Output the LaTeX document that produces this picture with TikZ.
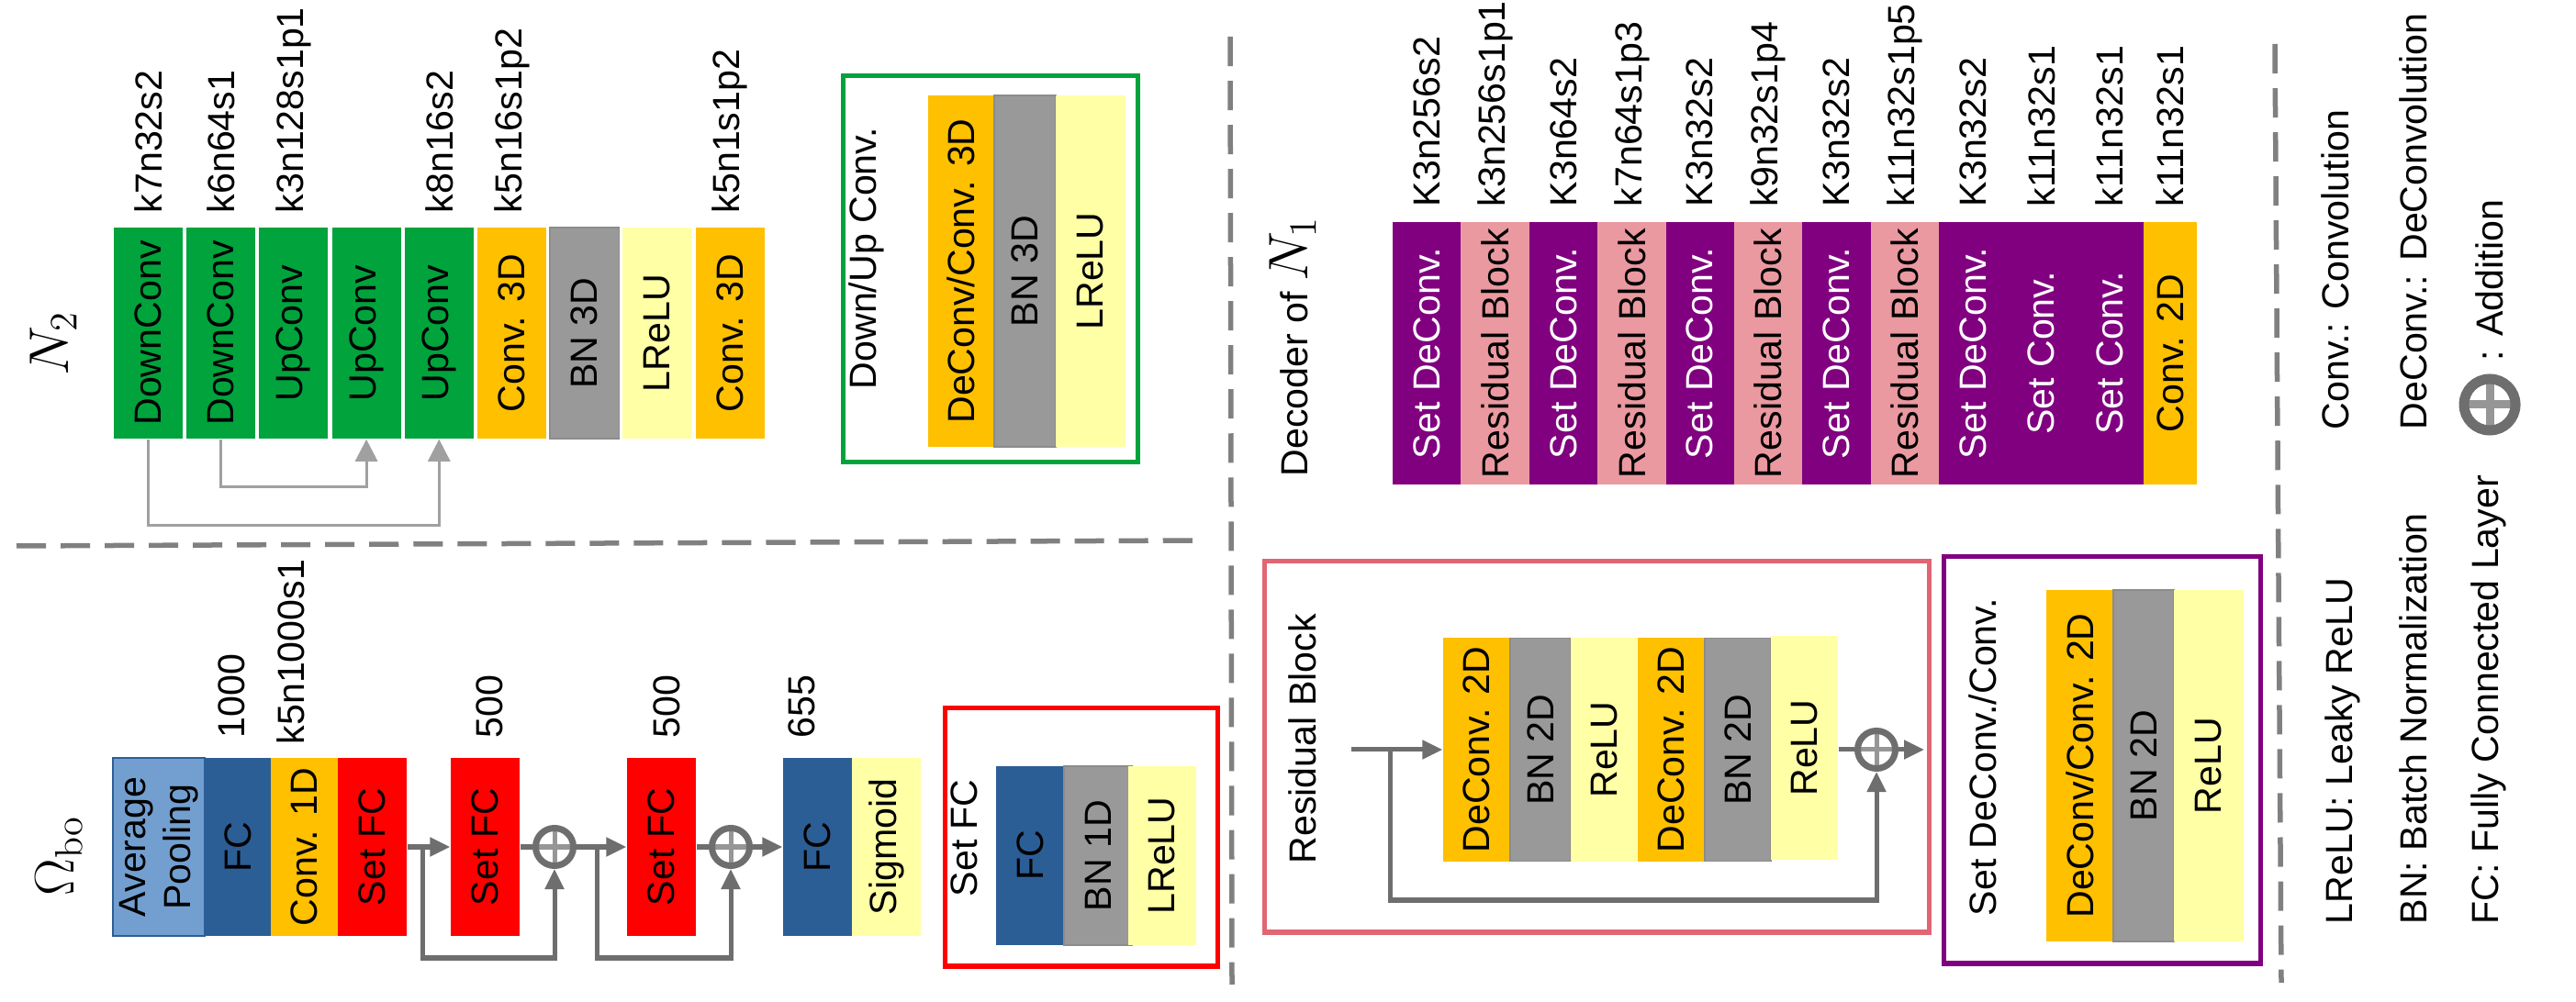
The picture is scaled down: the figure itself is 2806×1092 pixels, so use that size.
\documentclass[tikz,border=0pt]{standalone}
\usepackage{amsmath}
\usepackage[no-math]{fontspec}
\setmainfont{Liberation Sans}
\usepackage{tikz}
\usetikzlibrary{positioning, arrows.meta, calc}
\usepackage{xcolor}

\definecolor{netgreen}{RGB}{0,163,60}
\definecolor{convorange}{RGB}{255,192,0}
\definecolor{bngray}{RGB}{153,153,153}
\definecolor{reluyellow}{RGB}{255,255,166}
\definecolor{setpurple}{RGB}{128,0,128}
\definecolor{respink}{RGB}{234,153,160}
\definecolor{poolblue}{RGB}{114,159,207}
\definecolor{fcblue}{RGB}{44,94,150}
\definecolor{setred}{RGB}{255,0,0}
\definecolor{resframe}{RGB}{224,102,115}
\definecolor{skipgray}{RGB}{160,160,160}
\definecolor{linegray}{RGB}{110,110,110}
\definecolor{crossgray}{RGB}{150,150,150}
\definecolor{sepgray}{RGB}{128,128,128}

\newcommand{\vt}[1]{\rotatebox{90}{#1}}

\begin{document}
\begin{tikzpicture}[x=0.01cm, y=-0.01cm,
  every node/.style={font=\fontsize{11.7}{14}\selectfont},
  layer/.style={inner sep=0pt, minimum width=0.75cm},
  kname/.style={inner sep=0pt, anchor=south},
  big/.style={inner sep=0pt, font=\fontsize{18.5}{22}\selectfont},
  frame/.style={line width=0.05cm},
  sep/.style={sepgray, line width=0.055cm, dash pattern=on 0.32cm off 0.16cm},
  skipN/.style={skipgray, line width=0.03cm, -{Triangle[width=0.24cm, length=0.24cm]}},
  flow/.style={linegray, line width=0.05cm},
  arr/.style={-{Triangle[width=0.2cm, length=0.22cm]}},
  add/.style={circle, draw=linegray, line width=0.07cm, minimum size=0.41cm, inner sep=0pt,
    path picture={\draw[crossgray, line width=0.05cm] (path picture bounding box.north) -- (path picture bounding box.south)
      (path picture bounding box.west) -- (path picture bounding box.east);}},
  addbig/.style={circle, draw=linegray, line width=0.11cm, minimum size=0.56cm, inner sep=0pt,
    path picture={\draw[crossgray, line width=0.09cm] (path picture bounding box.north) -- (path picture bounding box.south)
      (path picture bounding box.west) -- (path picture bounding box.east);}}
]
\useasboundingbox (0,0) rectangle (2806,1092);

% N2
\node[big] (n2) at (58,374) {\vt{$N_2$}};
\node[layer, fill=netgreen, minimum height=2.3cm] (dc1) at (161.5,363) {\vt{DownConv}};
\node[layer, fill=netgreen, minimum height=2.3cm] (dc2) at (240.7,363) {\vt{DownConv}};
\node[layer, fill=netgreen, minimum height=2.3cm] (uc1) at (319.9,363) {\vt{UpConv}};
\node[layer, fill=netgreen, minimum height=2.3cm] (uc2) at (399.1,363) {\vt{UpConv}};
\node[layer, fill=netgreen, minimum height=2.3cm] (uc3) at (478.3,363) {\vt{UpConv}};
\node[layer, fill=convorange, minimum height=2.3cm] (cv1) at (557.5,363) {\vt{Conv. 3D}};
\node[layer, fill=bngray, draw=black!45, minimum height=2.3cm] (bn1) at (636.7,363) {\vt{BN 3D}};
\node[layer, fill=reluyellow, minimum height=2.3cm] (lr1) at (715.9,363) {\vt{LReLU}};
\node[layer, fill=convorange, minimum height=2.3cm] (cv2) at (795.1,363) {\vt{Conv. 3D}};

\node[kname] (kdc1) at (161.5,233) {\vt{k7n32s2}};
\node[kname] (kdc2) at (240.7,233) {\vt{k6n64s1}};
\node[kname] (kuc1) at (319.9,233) {\vt{k3n128s1p1}};
\node[kname] (kuc3) at (478.3,233) {\vt{k8n16s2}};
\node[kname] (kcv1) at (557.5,233) {\vt{k5n16s1p2}};
\node[kname] (kcv2) at (795.1,233) {\vt{k5n1s1p2}};

\draw[skipN] (dc1.south) -- ++(0,94) -| (uc3.south);
\draw[skipN] (dc2.south) -- ++(0,52) -| (uc2.south);

% Down/Up Conv.
\draw[frame, netgreen] (918,83) rectangle (1239,504);
\node[kname] (dutitle) at (944,425) {\vt{Down/Up Conv.}};
\node[layer, fill=convorange, minimum width=0.72cm, minimum height=3.83cm] (udc) at (1047,295.5) {\vt{DeConv/Conv. 3D}};
\node[layer, fill=bngray, draw=black!45, minimum width=0.67cm, minimum height=3.83cm] (ubn) at (1116.5,295.5) {\vt{BN 3D}};
\node[layer, fill=reluyellow, minimum width=0.76cm, minimum height=3.83cm] (ulr) at (1188,295.5) {\vt{LReLU}};

% Omega_bo
\node[big] (omega) at (64,933) {\vt{$\Omega_{\mathrm{bo}}$}};
\node[layer, fill=poolblue, draw=fcblue, minimum width=1cm, minimum height=1.94cm] (pool) at (173,923) {\vt{\begin{tabular}{@{}c@{}}Average\\Pooling\end{tabular}}};
\node[layer, fill=fcblue, minimum width=0.72cm, minimum height=1.94cm] (fc1) at (259,923) {\vt{FC}};
\node[layer, fill=convorange, minimum width=0.73cm, minimum height=1.94cm] (c1d) at (331.5,923) {\vt{Conv. 1D}};
\node[layer, fill=setred, minimum height=1.94cm] (sfc1) at (405.5,923) {\vt{Set FC}};
\node[layer, fill=setred, minimum height=1.94cm] (sfc2) at (528.5,923) {\vt{Set FC}};
\node[add] (add1) at (604,923) {};
\node[layer, fill=setred, minimum height=1.94cm] (sfc3) at (720.5,923) {\vt{Set FC}};
\node[add] (add2) at (796,923) {};
\node[layer, fill=fcblue, minimum height=1.94cm] (fc2) at (890.5,923) {\vt{FC}};
\node[layer, fill=reluyellow, minimum height=1.94cm] (sig) at (965.5,923) {\vt{Sigmoid}};

\node[kname] (kfc1) at (252,805) {\vt{1000}};
\node[kname] (kc1d) at (317,812) {\vt{k5n1000s1}};
\node[kname] (ksfc2) at (533,805) {\vt{500}};
\node[kname] (ksfc3) at (726,805) {\vt{500}};
\node[kname] (kfc2) at (873,805) {\vt{655}};

\coordinate (j1) at (460,923);
\coordinate (j2) at (650,923);
\draw[flow, arr] (sfc1.east) -- (sfc2.west);
\draw[flow, arr] (j1) -- ++(0,121) -| (add1.south);
\draw[flow] (sfc2.east) -- (add1.west);
\draw[flow, arr] (add1.east) -- (sfc3.west);
\draw[flow, arr] (j2) -- ++(0,121) -| (add2.south);
\draw[flow] (sfc3.east) -- (add2.west);
\draw[flow, arr] (add2.east) -- (fc2.west);

% Set FC
\draw[frame, setred] (1029,772) rectangle (1326,1053);
\node[kname] (sfctitle) at (1050,978) {\vt{Set FC}};
\node[layer, fill=fcblue, minimum width=0.74cm, minimum height=1.95cm] (sfcfc) at (1122,932.5) {\vt{FC}};
\node[layer, fill=bngray, draw=black!45, minimum width=0.74cm, minimum height=1.95cm] (sfcbn) at (1196,932.5) {\vt{BN 1D}};
\node[layer, fill=reluyellow, minimum width=0.74cm, minimum height=1.95cm] (sfclr) at (1266,932.5) {\vt{LReLU}};

% Decoder of N1
\node[kname] (dectitle) at (1408,520) {\vt{Decoder of {\fontsize{18.5}{22}\selectfont$N_1$}}};
\node[layer, fill=setpurple, text=white, minimum width=0.745cm, minimum height=2.86cm] (sd1) at (1554.2,385) {\vt{Set DeConv.}};
\node[layer, fill=respink, minimum width=0.745cm, minimum height=2.86cm] (rb1) at (1628.6,385) {\vt{Residual Block}};
\node[layer, fill=setpurple, text=white, minimum width=0.745cm, minimum height=2.86cm] (sd2) at (1703,385) {\vt{Set DeConv.}};
\node[layer, fill=respink, minimum width=0.745cm, minimum height=2.86cm] (rb2) at (1777.4,385) {\vt{Residual Block}};
\node[layer, fill=setpurple, text=white, minimum width=0.745cm, minimum height=2.86cm] (sd3) at (1851.8,385) {\vt{Set DeConv.}};
\node[layer, fill=respink, minimum width=0.745cm, minimum height=2.86cm] (rb3) at (1926.2,385) {\vt{Residual Block}};
\node[layer, fill=setpurple, text=white, minimum width=0.745cm, minimum height=2.86cm] (sd4) at (2000.6,385) {\vt{Set DeConv.}};
\node[layer, fill=respink, minimum width=0.745cm, minimum height=2.86cm] (rb4) at (2075,385) {\vt{Residual Block}};
\node[layer, fill=setpurple, text=white, minimum width=0.745cm, minimum height=2.86cm] (sd5) at (2149.4,385) {\vt{Set DeConv.}};
\node[layer, fill=setpurple, text=white, minimum width=0.745cm, minimum height=2.86cm] (sc1) at (2223.8,385) {\vt{Set Conv.}};
\node[layer, fill=setpurple, text=white, minimum width=0.745cm, minimum height=2.86cm] (sc2) at (2298.2,385) {\vt{Set Conv.}};
\node[layer, fill=convorange, minimum width=0.58cm, minimum height=2.86cm] (c2d) at (2364,385) {\vt{Conv. 2D}};

\node[kname] (ksd1) at (1554.2,226) {\vt{K3n256s2}};
\node[kname] (krb1) at (1628.6,226) {\vt{k3n256s1p1}};
\node[kname] (ksd2) at (1703,226) {\vt{K3n64s2}};
\node[kname] (krb2) at (1777.4,226) {\vt{k7n64s1p3}};
\node[kname] (ksd3) at (1851.8,226) {\vt{K3n32s2}};
\node[kname] (krb3) at (1926.2,226) {\vt{k9n32s1p4}};
\node[kname] (ksd4) at (2000.6,226) {\vt{K3n32s2}};
\node[kname] (krb4) at (2075,226) {\vt{k11n32s1p5}};
\node[kname] (ksd5) at (2149.4,226) {\vt{K3n32s2}};
\node[kname] (ksc1) at (2223.8,226) {\vt{k11n32s1}};
\node[kname] (ksc2) at (2298.2,226) {\vt{k11n32s1}};
\node[kname] (kc2d) at (2364,226) {\vt{k11n32s1}};

% Residual Block
\draw[frame, resframe] (1377,612) rectangle (2101,1016);
\node[kname] (rbtitle) at (1419,942) {\vt{Residual Block}};
\node[layer, fill=convorange, minimum width=0.73cm, minimum height=2.43cm] (rdc1) at (1608.5,817) {\vt{DeConv. 2D}};
\node[layer, fill=bngray, draw=black!45, minimum width=0.66cm, minimum height=2.43cm] (rbn1) at (1678,817) {\vt{BN 2D}};
\node[layer, fill=reluyellow, minimum width=0.73cm, minimum height=2.43cm] (rrl1) at (1747.5,817) {\vt{ReLU}};
\node[layer, fill=convorange, minimum width=0.73cm, minimum height=2.43cm] (rdc2) at (1820.5,817) {\vt{DeConv. 2D}};
\node[layer, fill=bngray, draw=black!45, minimum width=0.72cm, minimum height=2.43cm] (rbn2) at (1893,817) {\vt{BN 2D}};
\node[layer, fill=reluyellow, minimum width=0.73cm, minimum height=2.43cm] (rrl2) at (1965.5,815) {\vt{ReLU}};
\node[add] (addr) at (2044,817) {};

\coordinate (rin) at (1472,817);
\coordinate (rj) at (1514,817);
\coordinate (rout) at (2096,817);
\draw[flow, arr] (rin) -- (rdc1.west);
\draw[flow, arr] (rj) -- ++(0,164) -| (addr.south);
\draw[flow] (rrl2.east |- addr.west) -- (addr.west);
\draw[flow, arr] (addr.east) -- (rout);

% Set DeConv./Conv.
\draw[frame, setpurple] (2117,607) rectangle (2462,1050);
\node[kname] (sdtitle) at (2160,999) {\vt{Set DeConv./Conv.}};
\node[layer, fill=convorange, minimum width=0.73cm, minimum height=3.83cm] (sdc) at (2265.5,834.5) {\vt{DeConv/Conv. 2D}};
\node[layer, fill=bngray, draw=black!45, minimum width=0.66cm, minimum height=3.83cm] (sbn) at (2335,834.5) {\vt{BN 2D}};
\node[layer, fill=reluyellow, minimum width=0.76cm, minimum height=3.83cm] (srl) at (2406,834.5) {\vt{ReLU}};

% separators
\draw[sep] (18,595) -- (1302,589);
\draw[sep] (1340,40) -- (1342,1073);
\draw[sep] (2478,48) -- (2485,1071);

% legend
\node[kname] (lconv) at (2544,469) {\vt{Conv.: Convolution}};
\node[kname] (ldeconv) at (2629,469) {\vt{DeConv.: DeConvolution}};
\node[addbig] (ladd) at (2712,441) {};
\node[kname] (laddtext) at (2712,394) {\vt{: Addition}};
\node[kname] (llrelu) at (2552,1008) {\vt{LReLU: Leaky ReLU}};
\node[kname] (lbn) at (2629,1008) {\vt{BN: Batch Normalization}};
\node[kname] (lfc) at (2711,1008) {\vt{FC: Fully Connected Layer}};
\end{tikzpicture}
\end{document}
